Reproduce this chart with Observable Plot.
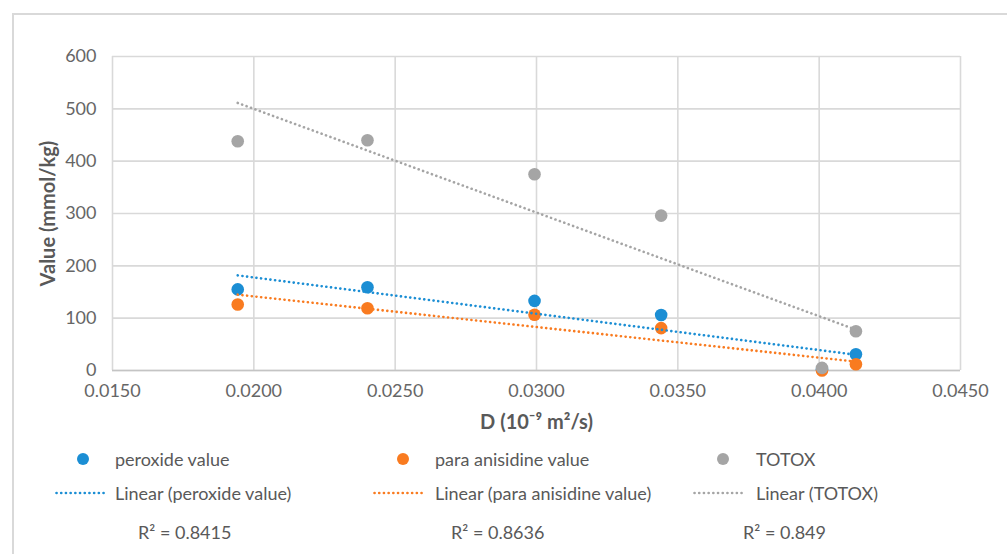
<!DOCTYPE html>
<html><head><meta charset="utf-8">
<script src="https://cdn.jsdelivr.net/npm/d3@7"></script>
<script src="https://cdn.jsdelivr.net/npm/@observablehq/plot@0.6"></script>
<style>
body{margin:0;background:#fff;font-family:Lato,"Open Sans",sans-serif;}
#wrap{position:relative;width:1007px;height:554px;overflow:hidden;background:#fff;}
#border{position:absolute;left:12px;top:13px;width:1100px;height:700px;border:2px solid #d9d9d9;box-sizing:border-box;}
#chart{position:absolute;left:0;top:0;}
.leg{position:absolute;font-size:18px;color:#595959;white-space:nowrap;line-height:20px;}
.legsvg{position:absolute;overflow:visible;}
</style></head><body>
<div id="wrap"><div id="border"></div><div id="chart"></div><div id="legend"></div></div>
<script>
// ---- data ----
const D = [0.01943, 0.02402, 0.02993, 0.03441, 0.0401, 0.0413];
const peroxide = [155, 159, 133, 106, 2.5, 31];
const anisidine = [126, 119, 106.5, 81, 0, 12];
const totox = [438, 440, 375, 296, 5, 75];
const seriesNames = ["peroxide value", "para anisidine value", "TOTOX"];
const seriesColors = ["#1b8ed4", "#f97b20", "#a5a5a5"];
const r2Labels = ["0.8415", "0.8636", "0.849"];
const xTicks = [0.015, 0.020, 0.025, 0.030, 0.035, 0.040, 0.045];
const yTicks = [0, 100, 200, 300, 400, 500, 600];
const xLabel = "D (10⁻⁹ m²/s)";
const yLabel = "Value (mmol/kg)";

const seriesValues = [peroxide, anisidine, totox];
const rows = [];
seriesNames.forEach((s, i) => D.forEach((d, j) => rows.push({D: d, value: seriesValues[i][j], series: s})));

const fmt = d3.format(".4f");
const txt = "#595959";
const font = "Lato, 'Open Sans', sans-serif";
const dash = "0.1,4.6";

const chart = Plot.plot({
  width: 1007, height: 440,
  marginLeft: 112, marginRight: 47, marginTop: 56, marginBottom: 70,
  style: {fontFamily: font, fontSize: "18px", color: txt, background: "transparent"},
  x: {domain: [0.015, 0.045]},
  y: {domain: [0, 600]},
  color: {domain: seriesNames, range: seriesColors},
  marks: [
    Plot.gridX(xTicks, {stroke: "#d9d9d9", strokeOpacity: 1, strokeWidth: 1.6}),
    Plot.gridY(yTicks, {stroke: "#d9d9d9", strokeOpacity: 1, strokeWidth: 1.6}),
    Plot.ruleY([0], {stroke: "#c4c4c4", strokeWidth: 1.6}),
    Plot.axisX(xTicks, {tickSize: 0, tickPadding: 14, tickFormat: fmt, label: null, fill: "#666666", fontSize: 18}),
    Plot.axisY(yTicks, {tickSize: 0, tickPadding: 16, label: null, fill: "#666666", fontSize: 18}),
    Plot.dot(rows, {x: "D", y: "value", fill: "series", r: 6.3}),
    Plot.linearRegressionY(rows, {x: "D", y: "value", stroke: "series", z: "series", ci: 0,
      strokeWidth: 2.6, strokeDasharray: dash, strokeLinecap: "round"}),
    Plot.text([xLabel], {frameAnchor: "bottom", dy: 58, fontWeight: "bold", fontSize: 20, fill: txt}),
    Plot.text([yLabel], {frameAnchor: "left", textAnchor: "middle", dx: -64, rotate: -90, fontWeight: "bold", fontSize: 20, fill: txt})
  ]
});
document.getElementById("chart").appendChild(chart);

// ---- legend ----
const layout = [
  {dot: 83, text: 115, line: 55, r2: 138},
  {dot: 403, text: 435, line: 373, r2: 451},
  {dot: 723, text: 756, line: 693, r2: 743}
];
const rowY = [459, 493, 532];
const leg = d3.select("#legend");
seriesNames.forEach((s, i) => {
  const L = layout[i];
  const c = seriesColors[i];
  const s1 = leg.append("svg").attr("class", "legsvg").attr("width", 14).attr("height", 14)
    .style("left", (L.dot - 7) + "px").style("top", (rowY[0] - 7) + "px");
  s1.append("circle").attr("cx", 7).attr("cy", 7).attr("r", 6).attr("fill", c);
  leg.append("div").attr("class", "leg").style("left", L.text + "px").style("top", (rowY[0] - 10) + "px").text(s);
  const s2 = leg.append("svg").attr("class", "legsvg").attr("width", 54).attr("height", 6)
    .style("left", L.line + "px").style("top", (rowY[1] - 3) + "px");
  s2.append("line").attr("x1", 1.5).attr("x2", 52).attr("y1", 3).attr("y2", 3)
    .attr("stroke", c).attr("stroke-width", 2.6).attr("stroke-dasharray", dash).attr("stroke-linecap", "round");
  leg.append("div").attr("class", "leg").style("left", L.text + "px").style("top", (rowY[1] - 10) + "px").text(`Linear (${s})`);
  leg.append("div").attr("class", "leg").style("left", L.r2 + "px").style("top", (rowY[2] - 10) + "px").text(`R² = ${r2Labels[i]}`);
});
</script>
</body></html>
